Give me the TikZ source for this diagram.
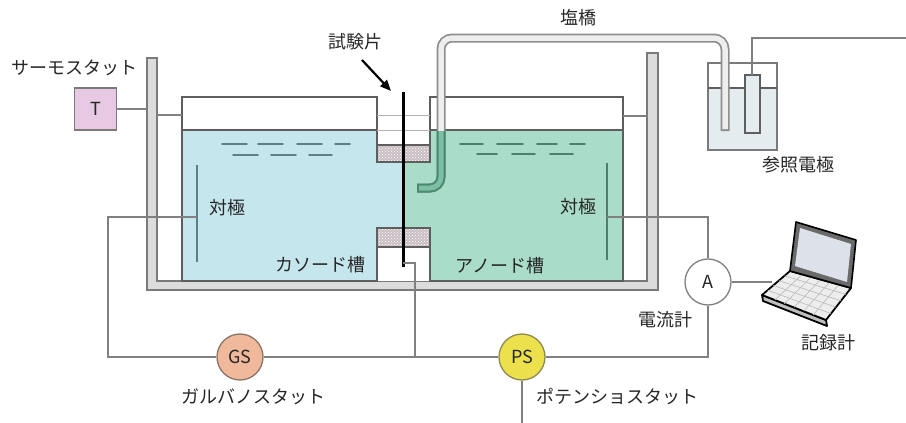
\documentclass[tikz,border=0pt]{standalone}
\usepackage{fontspec}
\setmainfont{Noto Sans CJK JP}
\usetikzlibrary{patterns,arrows.meta,calc}
\definecolor{txt}{HTML}{262626}
\definecolor{wiregray}{HTML}{808080}
\definecolor{wallgray}{HTML}{5E5E5E}
\definecolor{bathfill}{HTML}{DCDCDC}
\definecolor{bathline}{HTML}{7A7A7A}
\definecolor{cathodeblue}{HTML}{C6E6EE}
\definecolor{anodegreen}{HTML}{A9DCC9}
\definecolor{dashblue}{HTML}{5C7F86}
\definecolor{dashgreen}{HTML}{4F7E6E}
\definecolor{plugfill}{HTML}{C9BFC4}
\definecolor{thermopink}{HTML}{E8C9E3}
\definecolor{gsfill}{HTML}{F1B99C}
\definecolor{gsline}{HTML}{8A7468}
\definecolor{psfill}{HTML}{ECE14C}
\definecolor{psline}{HTML}{8C8A52}
\definecolor{tubegray}{HTML}{8E8E8E}
\definecolor{tubein}{HTML}{EEEEEE}
\definecolor{tubewetout}{HTML}{4A8A70}
\definecolor{tubewet}{HTML}{7CBFA5}
\definecolor{refliquid}{HTML}{E5ECEF}
\definecolor{screenblue}{HTML}{DDE2EA}
\definecolor{bezel}{HTML}{6A6A6A}
\definecolor{keygray}{HTML}{EDEDED}
\begin{document}
\begin{tikzpicture}[x=1pt,y=-1pt,
  wire/.style={draw=wiregray, line width=1.4pt},
  cellwall/.style={draw=wallgray, line width=1.3pt},
  lbl/.style={font=\fontsize{18}{21}\selectfont, text=txt, inner sep=0pt},
  meter/.style={circle, minimum size=46pt, inner sep=0pt, line width=1.3pt,
    font=\fontsize{18}{21}\selectfont, text=txt},
  wavedash/.style={line width=1.8pt, line cap=round}
]
\useasboundingbox (0,0) rectangle (906,423);

% ---- thermostatic bath (U-shaped double wall) ----
\filldraw[fill=bathfill, draw=bathline, line width=1.2pt]
  (147,58) -- (147,290) -- (658,290) -- (658,53) -- (647,53)
  -- (647,281) -- (157,281) -- (157,58) -- cycle;

% ---- electrolyte ----
\fill[cathodeblue] (182,130) rectangle (377,281);
\fill[cathodeblue] (377,162) rectangle (403,228);
\fill[anodegreen] (403,162) rectangle (430,228);
\fill[anodegreen] (430,130) rectangle (623,281);
\fill[white] (377,247) rectangle (430,281);

% water surface ripples
\foreach \a/\b in {222/247,258/283,297/322,335/350}
  \draw[wavedash, dashblue] (\a,144) -- (\b,144);
\foreach \a/\b in {233/258,271/296,309/332}
  \draw[wavedash, dashblue] (\a,155) -- (\b,155);
\foreach \a/\b in {460/483,497/523,537/557,570/585}
  \draw[wavedash, dashgreen] (\a,144) -- (\b,144);
\foreach \a/\b in {477/497,512/535,550/573}
  \draw[wavedash, dashgreen] (\a,154) -- (\b,154);

% ---- cell walls ----
\draw[cellwall] (377,145) -- (377,97) -- (182,97) -- (182,281) -- (377,281) -- (377,228);
\draw[cellwall] (430,145) -- (430,97) -- (623,97) -- (623,281) -- (430,281) -- (430,228);
\draw[cellwall] (182,130) -- (377,130);
\draw[cellwall] (430,130) -- (623,130);
\draw[draw=wiregray!60, line width=0.8pt] (377,130) -- (430,130);
\draw[draw=wiregray!60, line width=0.8pt] (377,115) -- (430,115);

% supports between bath and cells
\draw[wire] (157,115) -- (182,115);
\draw[wire] (623,116) -- (647,116);

% porous separators
\foreach \ya/\yb in {145/162,228/247}{
  \fill[plugfill] (377,\ya) rectangle (430,\yb);
  \fill[pattern=crosshatch dots, pattern color=white] (377,\ya) rectangle (430,\yb);
  \draw[cellwall] (377,\ya) rectangle (430,\yb);
}

% ---- counter electrodes ----
\draw[draw=dashblue, line width=1.6pt] (197,165) -- (197,262);
\draw[draw=dashgreen, line width=1.6pt] (607,163) -- (607,260);

% ---- test specimen ----
\draw[line width=3pt, black] (403,92) -- (403,267);
\coordinate (spec) at (403,263);
\draw[-{Triangle[length=11pt,width=9pt]}, line width=2.2pt, black] (362,60) -- (391,91);

% ---- reference electrode vessel ----
\filldraw[fill=white, draw=bathline, line width=1.2pt] (708,63) rectangle (777,150);
\fill[refliquid] (709,88) rectangle (776,149);
\draw[cellwall] (708,88) -- (777,88);
\filldraw[fill=refliquid, draw=wallgray, line width=1.2pt] (745,75) rectangle (760,133);
\coordinate (refel) at (752,75);
\coordinate (refout) at (906,38);
\draw[wire] (refel) |- (refout);

% ---- salt bridge ----
\draw[line width=9pt, tubegray, rounded corners=11pt]
  (417,188) -- (441,188) -- (441,38) -- (725,38) -- (725,131);
\draw[line width=5.5pt, tubein, rounded corners=11pt]
  (419,188) -- (441,188) -- (441,38) -- (725,38) -- (725,129);
% part of the bridge immersed in the anolyte
\draw[line width=9pt, tubewetout, rounded corners=11pt]
  (417,188) -- (441,188) -- (441,131);
\draw[line width=5pt, tubewet, rounded corners=11pt]
  (419,188) -- (441,188) -- (441,131);

% ---- thermostat ----
\node[draw=bathline, fill=thermopink, line width=1.2pt, minimum size=42pt,
  font=\fontsize{18}{21}\selectfont, text=txt] (T) at (95.5,109) {T};
\coordinate (bathL) at (147,109);
\draw[wire] (T.east) -- (bathL);

% ---- instruments ----
\node[meter, draw=gsline, fill=gsfill] (GS) at (240,357) {GS};
\node[meter, draw=psline, fill=psfill] (PS) at (522,357) {PS};
\node[meter, draw=wiregray, fill=white] (A) at (708,282) {A};

\coordinate (ceL) at (197,217);
\coordinate (ceR) at (607,217);
\coordinate (cornerL) at (108,357);
\coordinate (jn) at (415,357);
\coordinate (cornerR) at (708,357);
\coordinate (psout) at (522,423);

\draw[wire] (ceL) -- (108,217) -- (cornerL) -- (GS);
\draw[wire] (GS) -- (jn);
\draw[wire] (spec) -- (415,263) -- (jn);
\draw[wire] (jn) -- (PS);
\draw[wire] (PS) -- (cornerR) -- (A);
\draw[wire] (A) -- (708,217) -- (ceR);
\draw[wire] (PS) -- (psout);

% ---- recorder (laptop) ----
\coordinate (lapin) at (772,282);
\draw[wire] (A) -- (lapin);
\begin{scope}[line join=round]
  % base with front edge
  \filldraw[fill=keygray!80!black, draw=black, line width=1.8pt]
    (762,295) -- (826,320) -- (827,326) -- (763,301) -- cycle;
  \filldraw[fill=keygray, draw=black, line width=1.8pt]
    (790,271) -- (851,288) -- (826,320) -- (762,295) -- cycle;
  \foreach \t in {0.2,0.4,0.6,0.8}
    \draw[gray!55, line width=0.6pt]
      ($(790,271)!\t!(762,295)$) -- ($(851,288)!\t!(826,320)$);
  \foreach \t in {0.2,0.35,0.5,0.65,0.8}
    \draw[gray!55, line width=0.6pt]
      ($(790,271)!\t!(851,288)$) -- ($(762,295)!\t!(826,320)$);
  % lid
  \filldraw[fill=bezel, draw=black, line width=1.6pt]
    (790,271) -- (796,222) -- (856,240) -- (851,288) -- cycle;
  \fill[screenblue] (795,266) -- (800,228) -- (851,244) -- (847,282) -- cycle;
\end{scope}

% ---- labels ----
\node[lbl] (lthermo) at (75,68) {サーモスタット};
\node[lbl] (lspec) at (355,42) {試験片};
\node[lbl] (lbridge) at (578,18) {塩橋};
\node[lbl] (lref) at (798,165) {参照電極};
\node[lbl] (lceL) at (227,208) {対極};
\node[lbl] (lceR) at (578,207) {対極};
\node[lbl] (lcath) at (320,265) {カソード槽};
\node[lbl] (lanod) at (500,266) {アノード槽};
\node[lbl] (lamm) at (665,320) {電流計};
\node[lbl] (lrec) at (828,343) {記録計};
\node[lbl] (lgs) at (253,397) {ガルバノスタット};
\node[lbl] (lps) at (617,397) {ポテンショスタット};
\end{tikzpicture}
\end{document}
